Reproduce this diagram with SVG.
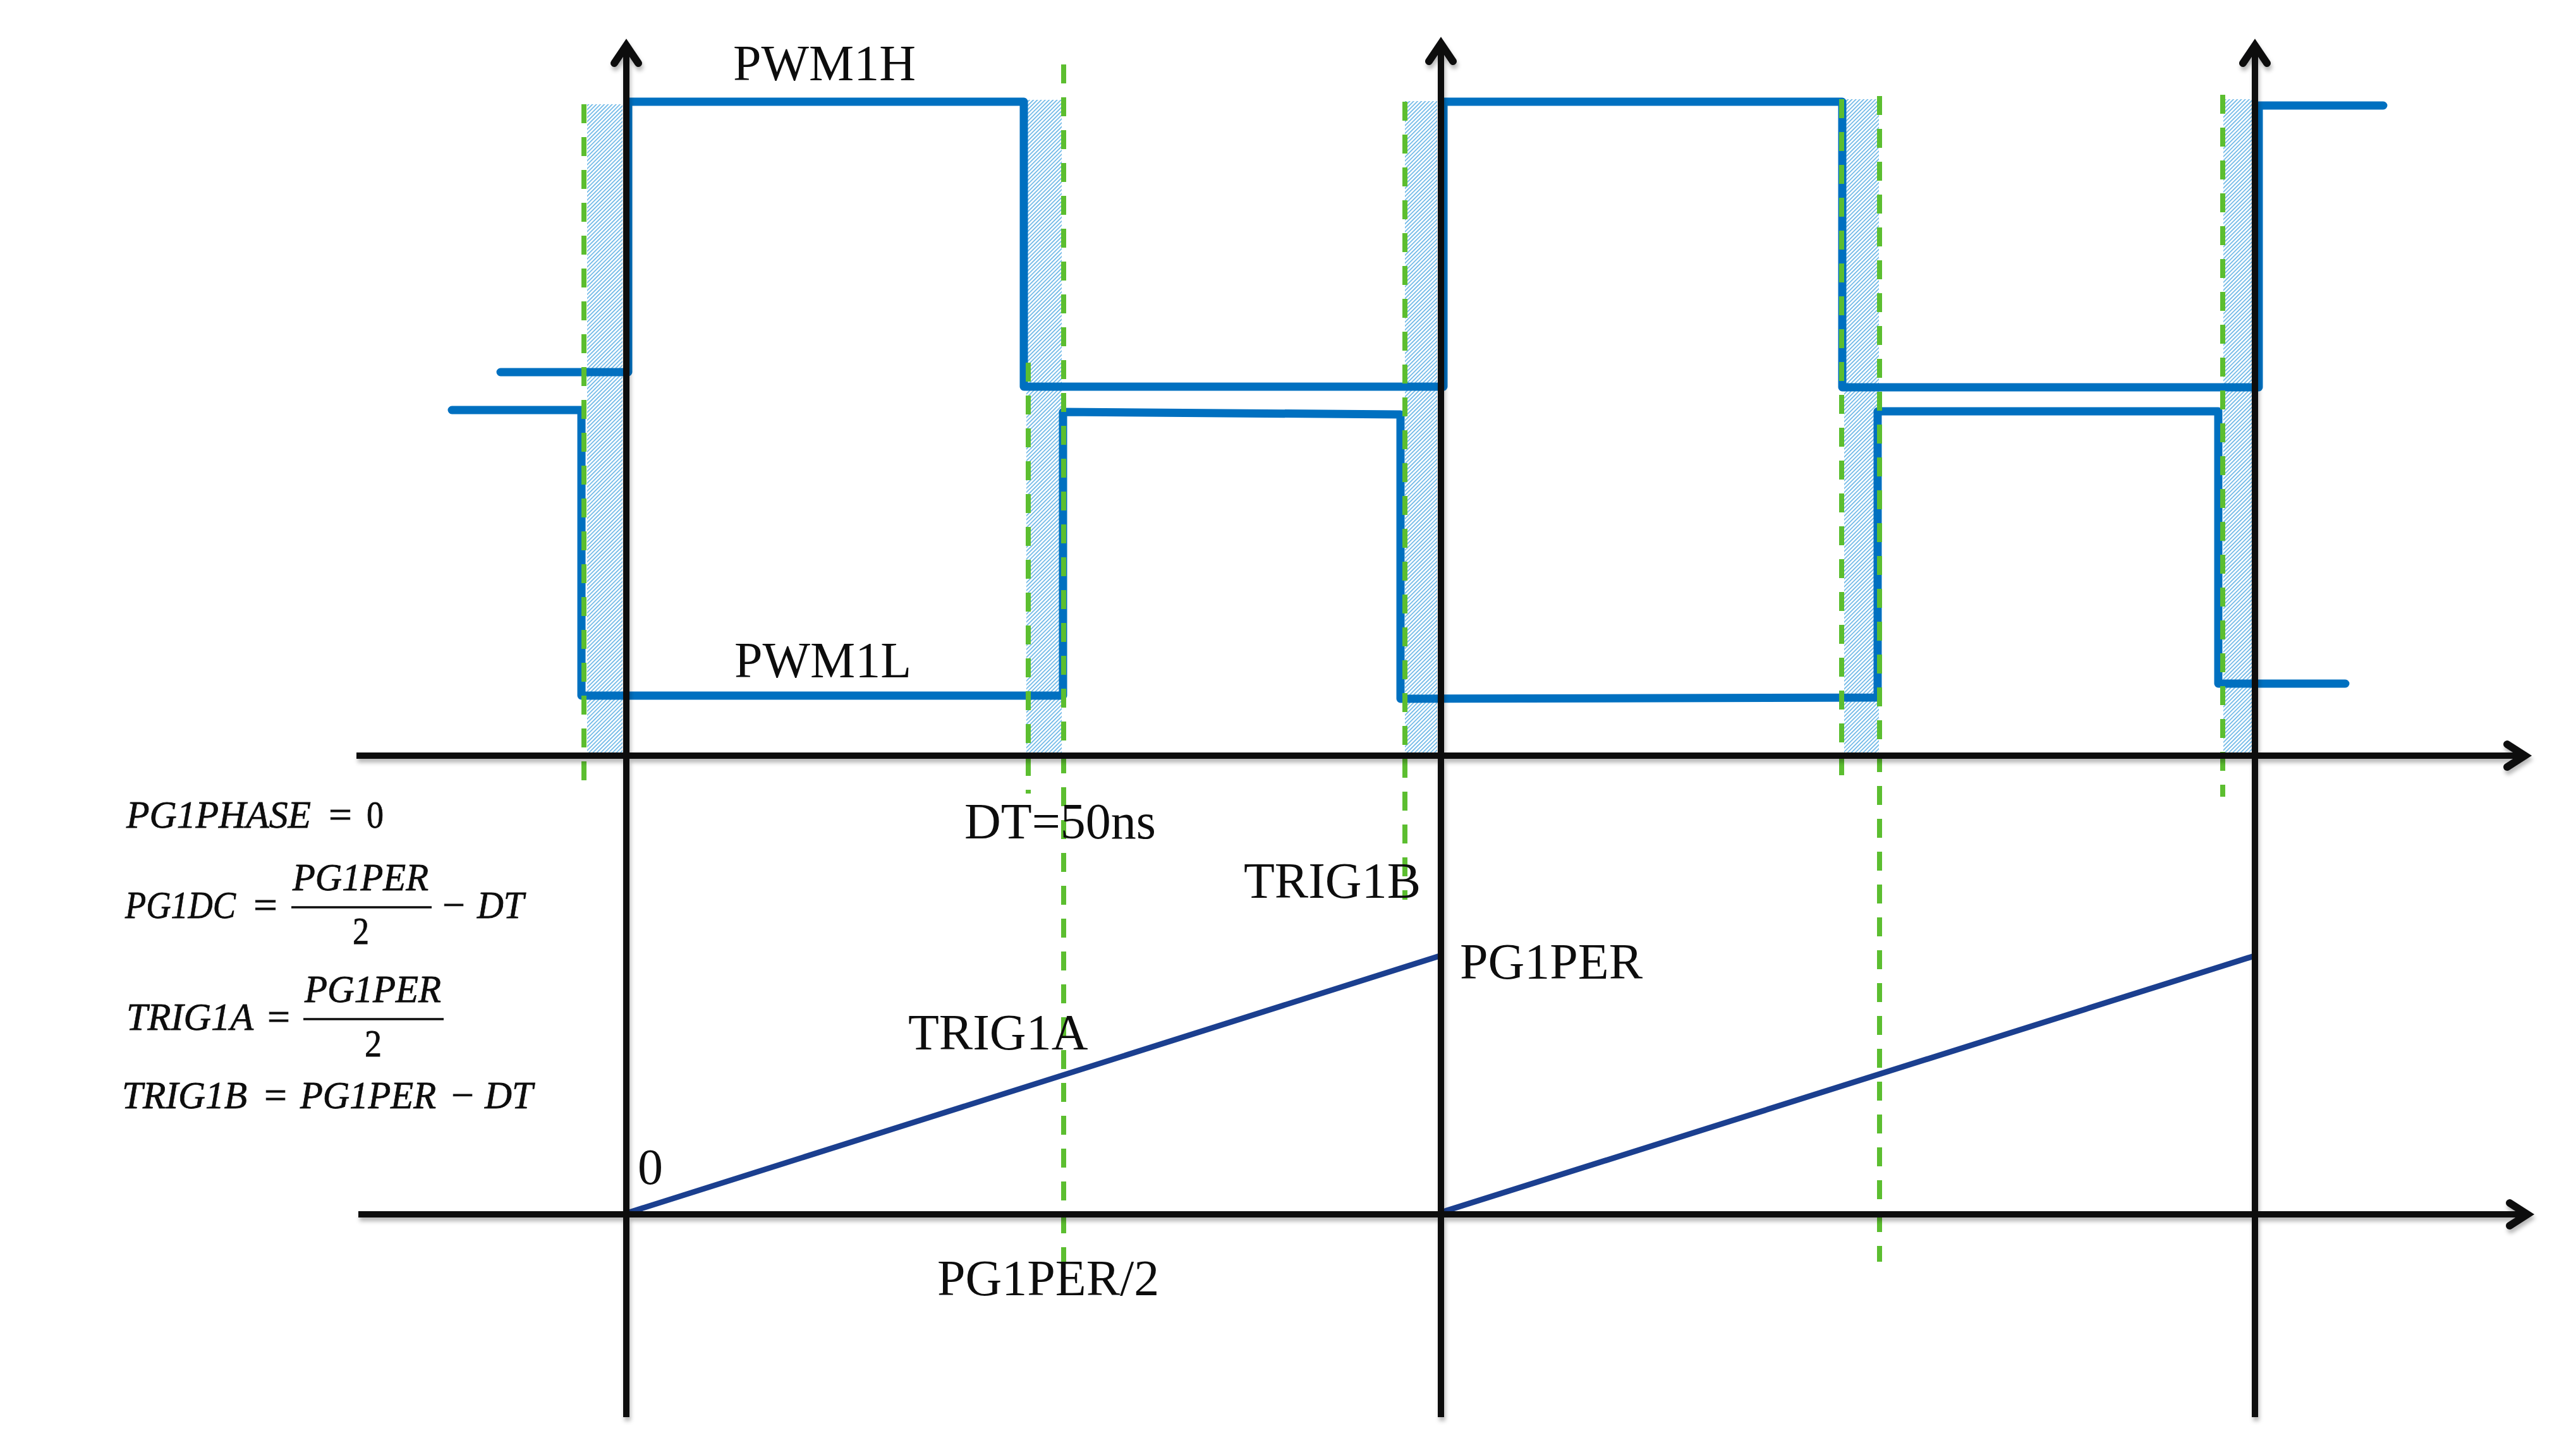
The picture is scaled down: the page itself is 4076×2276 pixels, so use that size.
<svg xmlns="http://www.w3.org/2000/svg" width="4076" height="2276" viewBox="0 0 4076 2276">
<defs>
<pattern id="hatch" patternUnits="userSpaceOnUse" width="4.4" height="10" patternTransform="rotate(45)">
<rect x="0" y="0" width="1.8" height="10" fill="#74bbe8"/>
</pattern>
<filter id="shadow" filterUnits="userSpaceOnUse" x="0" y="0" width="4076" height="2276">
<feDropShadow dx="2" dy="6" stdDeviation="3" flood-color="#000" flood-opacity="0.28"/>
</filter>
</defs>
<style>
.band{fill:url(#hatch)}
.wave{fill:none;stroke:#0070c0;stroke-width:13;stroke-linecap:round;stroke-linejoin:round}
.dash{fill:none;stroke:#5cbe30;stroke-width:8;stroke-dasharray:30 22}
.axis{fill:none;stroke:#0b0b0d;stroke-width:10}
.head{fill:none;stroke:#0b0b0d;stroke-width:12;stroke-linecap:round;stroke-linejoin:miter;stroke-miterlimit:10}
.ramp{fill:none;stroke:#1b3f8f;stroke-width:9}
.lbl{font-family:"Liberation Serif","Times New Roman",serif;font-size:80px;fill:#0d0d0d}
.eq{font-family:"Liberation Serif","Times New Roman",serif;font-style:italic;font-size:62px;fill:#0d0d0d;stroke:#0d0d0d;stroke-width:0.8}
.eqn{font-family:"Liberation Serif","Times New Roman",serif;font-size:62px;fill:#0d0d0d;stroke:#0d0d0d;stroke-width:0.8}
.bar{stroke:#0d0d0d;stroke-width:3.5}
</style>
<rect width="4076" height="2276" fill="#ffffff"/>

<g id="deadtime-bands">
<rect class="band" x="929" y="165" width="56" height="1026"/>
<rect class="band" x="1624" y="158" width="56" height="1033"/>
<rect class="band" x="2223" y="160" width="51" height="1031"/>
<rect class="band" x="2918" y="157" width="55" height="1034"/>
<rect class="band" x="3518" y="157" width="45" height="1034"/>
</g>

<g id="waveforms">
<path id="pwm1h" class="wave" d="M792,589 L994,589 L994,161 L1620,161 L1620,612 L2284,612 L2284,161 L2915,161 L2915,613 L3574,613 L3574,167 L3771,167"/>
<path id="pwm1l" class="wave" d="M715,649 L920,649 L920,1101 L1682,1101 L1682,652 L2216,656 L2216,1106 L2971,1104 L2971,651 L3510,651 L3510,1082 L3711,1082"/>
</g>

<g id="ramps">
<path class="ramp" d="M992,1920 L2278,1513"/>
<path class="ramp" d="M2283,1918 L3567,1513"/>
</g>

<g id="dashes">
<line class="dash" x1="924" y1="165" x2="924" y2="1240"/>
<line class="dash" x1="1627" y1="574" x2="1627" y2="1256"/>
<line class="dash" x1="1683" y1="102" x2="1683" y2="1998"/>
<line class="dash" x1="2223" y1="161" x2="2223" y2="1424"/>
<line class="dash" x1="2914" y1="157" x2="2914" y2="1229"/>
<line class="dash" x1="2974" y1="152" x2="2974" y2="1997"/>
<line class="dash" x1="3517" y1="150" x2="3517" y2="1261"/>
</g>

<g id="axes" filter="url(#shadow)">
<line class="axis" x1="991" y1="72" x2="991" y2="2243"/>
<line class="axis" x1="2280" y1="69" x2="2280" y2="2243"/>
<line class="axis" x1="3568" y1="72" x2="3568" y2="2243"/>
<line class="axis" x1="564" y1="1196" x2="3995" y2="1196"/>
<line class="axis" x1="567" y1="1922" x2="3999" y2="1922"/>
<path class="head" d="M972,100 L991,72 L1010,100"/>
<path class="head" d="M2261,97 L2280,69 L2299,97"/>
<path class="head" d="M3549,100 L3568,72 L3587,100"/>
<path class="head" d="M3967,1178 L3995,1196 L3967,1214"/>
<path class="head" d="M3971,1904 L3999,1922 L3971,1940"/>
</g>

<g id="labels">
<text class="lbl" x="1160" y="127">PWM1H</text>
<text class="lbl" x="1162" y="1072">PWM1L</text>
<text class="lbl" x="1526" y="1327">DT=50ns</text>
<text class="lbl" x="1968" y="1421">TRIG1B</text>
<text class="lbl" x="2310" y="1549">PG1PER</text>
<text class="lbl" x="1437" y="1661">TRIG1A</text>
<text class="lbl" x="1009" y="1874">0</text>
<text class="lbl" x="1483" y="2050">PG1PER/2</text>
</g>

<g id="equations">
<g id="eq-phase">
<text class="eq" x="200" y="1310" textLength="292" lengthAdjust="spacingAndGlyphs">PG1PHASE</text>
<text class="eqn" x="520" y="1310" textLength="37" lengthAdjust="spacingAndGlyphs">=</text>
<text class="eqn" x="580" y="1310" textLength="27" lengthAdjust="spacingAndGlyphs">0</text>
</g>
<g id="eq-dc">
<text class="eq" x="198" y="1453" textLength="175" lengthAdjust="spacingAndGlyphs">PG1DC</text>
<text class="eqn" x="401" y="1453" textLength="38" lengthAdjust="spacingAndGlyphs">=</text>
<text class="eq" x="463" y="1409" textLength="215" lengthAdjust="spacingAndGlyphs">PG1PER</text>
<line class="bar" x1="461" y1="1436" x2="683" y2="1436"/>
<text class="eqn" x="558" y="1494" textLength="26" lengthAdjust="spacingAndGlyphs">2</text>
<text class="eqn" x="700" y="1453" textLength="36" lengthAdjust="spacingAndGlyphs">−</text>
<text class="eq" x="755" y="1453" textLength="74" lengthAdjust="spacingAndGlyphs">DT</text>
</g>
<g id="eq-trig1a">
<text class="eq" x="200" y="1630" textLength="201" lengthAdjust="spacingAndGlyphs">TRIG1A</text>
<text class="eqn" x="423" y="1630" textLength="36" lengthAdjust="spacingAndGlyphs">=</text>
<text class="eq" x="482" y="1586" textLength="216" lengthAdjust="spacingAndGlyphs">PG1PER</text>
<line class="bar" x1="480" y1="1613" x2="702" y2="1613"/>
<text class="eqn" x="577" y="1672" textLength="27" lengthAdjust="spacingAndGlyphs">2</text>
</g>
<g id="eq-trig1b">
<text class="eq" x="193" y="1754" textLength="198" lengthAdjust="spacingAndGlyphs">TRIG1B</text>
<text class="eqn" x="418" y="1754" textLength="36" lengthAdjust="spacingAndGlyphs">=</text>
<text class="eq" x="475" y="1754" textLength="215" lengthAdjust="spacingAndGlyphs">PG1PER</text>
<text class="eqn" x="714" y="1754" textLength="36" lengthAdjust="spacingAndGlyphs">−</text>
<text class="eq" x="767" y="1754" textLength="76" lengthAdjust="spacingAndGlyphs">DT</text>
</g>
</g>
</svg>
